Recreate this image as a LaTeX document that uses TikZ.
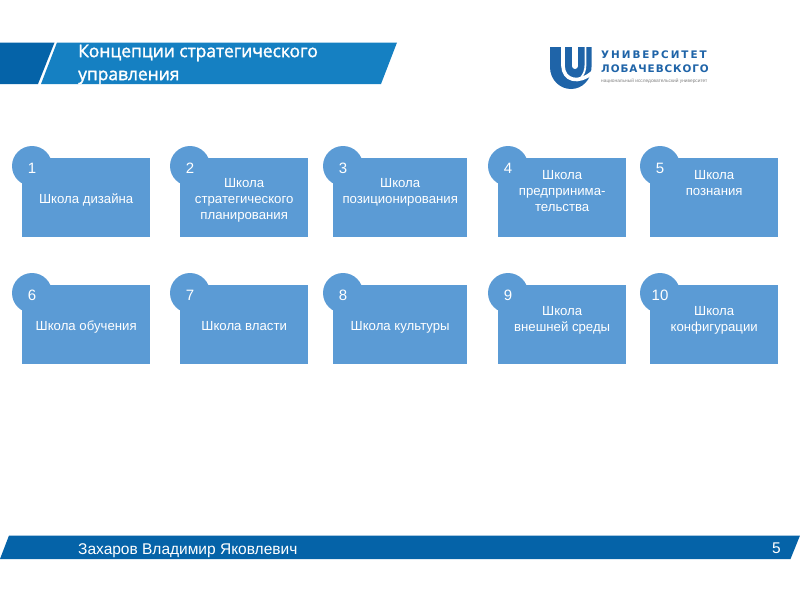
\documentclass[tikz,border=0pt]{standalone}
\usepackage{fontspec}
\setmainfont{Liberation Sans}
\newfontfamily\titlefont{Open Sans}[BoldFont={Open Sans}, BoldFeatures={FakeBold=1.6}]
\newfontfamily\logofonta{DejaVu Sans Bold}[LetterSpace=19]
\newfontfamily\logofontb{DejaVu Sans Bold}[LetterSpace=9]
\definecolor{boxblue}{HTML}{5B9BD5}
\definecolor{bardark}{HTML}{0563A8}
\definecolor{barlight}{HTML}{1580C2}
\definecolor{logoblue}{HTML}{1F64A8}
\tikzset{
  schoolbox/.style={fill=boxblue,draw=none,minimum height=79pt,inner sep=0pt,anchor=north west},
  schooltext/.style={text=white,align=center,font=\fontsize{13.2}{16}\selectfont,inner sep=0pt},
  badge/.style={circle,fill=boxblue,draw=none,minimum size=40pt,inner sep=0pt},
  numlabel/.style={text=white,font=\fontsize{15}{17}\selectfont,inner sep=0pt},
}
\newcommand{\school}[7]{% name, x, y, width, number, text offset, text
  \node[schoolbox,minimum width=#4pt] (box#1) at (#2,#3) {};
  \node[badge] (circ#1) at ([shift={(10,8)}]box#1.north west) {};
  \node[numlabel] (num#1) at ([shift={(0,2)}]circ#1.center) {#5};
  \node[schooltext] (txt#1) at ([shift={(0,#6)}]box#1.center) {#7};
}
\begin{document}
\begin{tikzpicture}[x=1pt,y=-1pt]
\useasboundingbox (0,0) rectangle (800,600);
\fill[white] (0,0) rectangle (800,600);
% header
\fill[bardark] (0,42.5) -- (54.5,42.5) -- (38,84) -- (0,84) -- cycle;
\fill[barlight] (57,42.5) -- (397,42.5) -- (381,84) -- (41,84) -- cycle;
\node[anchor=west,inner sep=0pt,text=white,align=left,font=\titlefont\bfseries\fontsize{17.4}{23}\selectfont] (title) at (78,64.5) {Концепции стратегического\\управления};
% logo
\fill[logoblue] (550,47) -- (591.5,47) -- (591.5,67) .. controls (591.5,80) and (582,89) .. (571,89) .. controls (560,89) and (550,80) .. (550,67) -- cycle;
\draw[white,line width=3.6pt] (563,45) -- (563,66) .. controls (563.5,80) and (578,85) .. (593,72);
\draw[white,line width=1.8pt] (585.5,45) -- (585.5,64) .. controls (585.5,70) and (584,74) .. (581,77.5);
\draw[white,line width=6pt] (575,45) -- (575,66);
\fill[white] (575,66) circle (3);
\node[anchor=west,inner sep=0pt,text=logoblue,font=\logofonta\fontsize{10.4}{12}\selectfont] (logo1) at (601,55) {УНИВЕРСИТЕТ};
\node[anchor=west,inner sep=0pt,text=logoblue,font=\logofontb\fontsize{10.4}{12}\selectfont] (logo2) at (601,69) {ЛОБАЧЕВСКОГО};
\node[anchor=west,inner sep=0pt,text=gray,font=\fontsize{4.8}{5}\selectfont] (logo3) at (601,81) {национальный исследовательский университет};
% boxes
\school{a}{22}{158}{128}{1}{2.5}{Школа дизайна}
\school{b}{180}{158}{128}{2}{2.5}{Школа\\стратегического\\планирования}
\school{c}{333}{158}{134}{3}{-5.5}{Школа\\позиционирования}
\school{d}{498}{158}{128}{4}{-7}{Школа\\предпринима-\\тельства}
\school{e}{650}{158}{128}{5}{-14.5}{Школа\\познания}
\school{f}{22}{285}{128}{6}{2.5}{Школа обучения}
\school{g}{180}{285}{128}{7}{1.5}{Школа власти}
\school{h}{333}{285}{134}{8}{2.5}{Школа культуры}
\school{i}{498}{285}{128}{9}{-4}{Школа\\внешней среды}
\school{j}{650}{285}{128}{10}{-4}{Школа\\конфигурации}
% footer
\fill[bardark] (9,535.5) -- (800,535.5) -- (790.5,559) -- (0,559) -- cycle;
\node[anchor=west,inner sep=0pt,text=white,font=\fontsize{15.5}{17}\selectfont] (author) at (78,551) {Захаров Владимир Яковлевич};
\node[anchor=center,inner sep=0pt,text=white,font=\fontsize{15.5}{17}\selectfont] (page) at (776.5,548.5) {5};
\end{tikzpicture}
\end{document}
